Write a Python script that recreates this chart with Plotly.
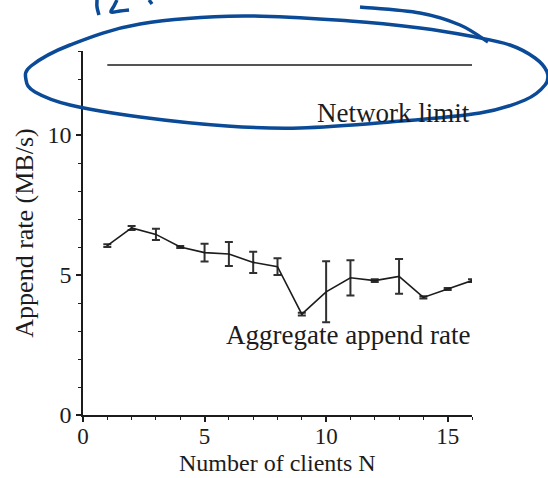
import plotly.graph_objects as go

# Aggregate append rate vs. number of clients, with measurement spread
clients = list(range(1, 17))
append_rate = [6.05, 6.68, 6.45, 6.00, 5.80, 5.75, 5.45, 5.30,
               3.60, 4.40, 4.90, 4.80, 4.95, 4.20, 4.50, 4.80]
append_err = [0.05, 0.07, 0.20, 0.04, 0.32, 0.43, 0.38, 0.30,
              0.05, 1.09, 0.63, 0.05, 0.62, 0.04, 0.04, 0.05]

# Network limit reference line
limit_x = [1, 16]
limit_y = [12.5, 12.5]

x_ticks = [0, 5, 10, 15]
y_ticks = [0, 5, 10]

W, H = 548, 478
L, R, T, B = 83, 76, 51, 63
PW, PH = W - L - R, H - T - B

SERIF = "Liberation Serif"
INK = "#1c1c1c"
PEN = "#0b4a96"


def to_paper(pt):
    px, py = pt
    return ((px - L) / PW, (H - B - py) / PH)


def smooth_path(points, closed=False):
    """Catmull-Rom spline through pixel points, as an SVG path in paper units."""
    pts = [to_paper(p) for p in points]
    n = len(pts)
    segs = [f"M {pts[0][0]:.4f},{pts[0][1]:.4f}"]
    last = n if closed else n - 1
    for i in range(last):
        if closed:
            p0, p1, p2, p3 = pts[(i - 1) % n], pts[i], pts[(i + 1) % n], pts[(i + 2) % n]
        else:
            p0 = pts[i - 1] if i > 0 else pts[i]
            p1, p2 = pts[i], pts[i + 1]
            p3 = pts[i + 2] if i + 2 < n else pts[i + 1]
        c1 = (p1[0] + (p2[0] - p0[0]) / 6, p1[1] + (p2[1] - p0[1]) / 6)
        c2 = (p2[0] - (p3[0] - p1[0]) / 6, p2[1] - (p3[1] - p1[1]) / 6)
        segs.append(f"C {c1[0]:.4f},{c1[1]:.4f} {c2[0]:.4f},{c2[1]:.4f} {p2[0]:.4f},{p2[1]:.4f}")
    return " ".join(segs)


fig = go.Figure()

fig.add_trace(go.Scatter(
    x=limit_x, y=limit_y, mode="lines",
    line=dict(color=INK, width=1.6), hoverinfo="skip", showlegend=False,
))

fig.add_trace(go.Scatter(
    x=clients, y=append_rate, mode="lines",
    line=dict(color=INK, width=1.6),
    error_y=dict(type="data", array=append_err, visible=True,
                 color="#303030", thickness=2, width=4),
    showlegend=False,
))

fig.add_annotation(x=16, y=10.8, text="Network limit", showarrow=False,
                   xanchor="right", yanchor="middle",
                   font=dict(family=SERIF, size=27, color=INK))
fig.add_annotation(x=16, y=2.86, text="Aggregate append rate", showarrow=False,
                   xanchor="right", yanchor="middle",
                   font=dict(family=SERIF, size=27, color=INK))

# x-axis title, set just below the tick labels
title_x, title_y = to_paper((L + PW / 2, 478))
fig.add_annotation(x=title_x, y=title_y, xref="paper", yref="paper",
                   text="Number of clients N", showarrow=False,
                   xanchor="center", yanchor="bottom",
                   font=dict(family=SERIF, size=24, color=INK))

# Hand-drawn highlight around the network limit
loop = [(470, 36), (420, 28), (350, 21), (244, 16), (140, 24), (70, 45),
        (31, 66), (26, 80), (35, 92), (70, 105), (140, 117), (227, 126),
        (300, 128), (390, 122), (480, 113), (525, 100), (545, 85),
        (547, 72), (535, 58), (510, 45)]
overlap = [(360, 7), (420, 13), (460, 25), (488, 42)]
scrawl_a = [(97, 0), (97, 7), (99, 15)]
scrawl_b = [(117, 0), (114, 6), (111, 12), (120, 11), (129, 10)]
scrawl_c = [(149, 0), (152, 4)]

pen = dict(color=PEN, width=3.5)
for pts, closed in [(loop, True), (overlap, False), (scrawl_a, False),
                    (scrawl_b, False), (scrawl_c, False)]:
    fig.add_shape(type="path", path=smooth_path(pts, closed), xref="paper",
                  yref="paper", line=pen, fillcolor="rgba(0,0,0,0)", layer="above")

axis_common = dict(
    showline=True, linecolor=INK, linewidth=1.6, mirror=False,
    ticks="outside", ticklen=5, tickwidth=1.6, tickcolor=INK,
    showgrid=False, zeroline=False, automargin=False,
    tickfont=dict(family=SERIF, size=24, color=INK),
)

fig.update_xaxes(
    range=[0, 16], tickvals=x_ticks, ticktext=[str(v) for v in x_ticks],
    ticklabelstandoff=-5,
    minor=dict(tickvals=list(range(0, 17)), ticks="outside", ticklen=3,
               tickwidth=1.4, tickcolor=INK, showgrid=False),
    **{**axis_common, "tickfont": dict(family=SERIF, size=23, color=INK)},
)
fig.update_yaxes(
    range=[0, 13], tickvals=y_ticks, ticktext=[str(v) for v in y_ticks],
    minor=dict(tickvals=list(range(0, 14)), ticks="outside", ticklen=3,
               tickwidth=1.4, tickcolor=INK, showgrid=False),
    title=dict(text="Append rate (MB/s)", standoff=6,
               font=dict(family=SERIF, size=26, color=INK)),
    **axis_common,
)

fig.update_layout(
    width=W, height=H,
    margin=dict(l=L, r=R, t=T, b=B, pad=0),
    paper_bgcolor="white", plot_bgcolor="white",
    font=dict(family=SERIF, color=INK),
)

fig.write_html("out.html")
